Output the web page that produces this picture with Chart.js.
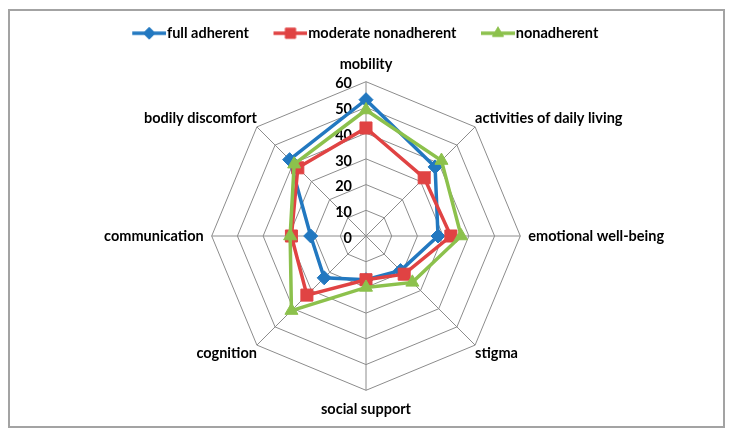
<!DOCTYPE html>
<html>
<head>
<meta charset="utf-8">
<script src="https://cdn.jsdelivr.net/npm/chart.js@4.4.1/dist/chart.umd.min.js"></script>
<style>
  html, body { margin: 0; padding: 0; background: #fff; }
  #wrap { position: relative; width: 731px; height: 434px; }
  #frame { position: absolute; left: 8px; top: 9px; width: 713px; height: 415px;
           border: 2px solid #a3a3a3; pointer-events: none; }
</style>
</head>
<body>
<div id="wrap">
  <canvas id="radar" width="731" height="434"></canvas>
  <div id="frame"></div>
</div>
<script>
// ===== QoL radar chart by adherence group =====

const categories = [
  "mobility", "activities of daily living", "emotional well-being", "stigma",
  "social support", "cognition", "communication", "bodily discomfort"
];
const seriesNames = ["full adherent", "moderate nonadherent", "nonadherent"];
const fullAdherent = [53, 38, 28, 19, 17, 23, 21.5, 42];
const moderateNonadherent = [42, 32, 33, 21, 17, 32.5, 29, 37.5];
const nonadherent = [49, 41.5, 37, 25.5, 20, 41, 29.5, 39.5];
const tickValues = [0, 10, 20, 30, 40, 50, 60];

const colors = ["#2278c0", "#e04343", "#8cc14c"];
const markers = ["rectRot", "rect", "triangle"];
const markerSizes = [7, 8.5, 7.5];

const FONT = "Lato";
const FONT_SIZE = 14.5;
Chart.defaults.font.family = FONT;
Chart.defaults.color = "#000";

// legend icon: line with the marker in the middle
function legendIcon(i) {
  const c = document.createElement("canvas");
  c.width = 39;
  c.height = 18;
  const g = c.getContext("2d");
  g.strokeStyle = colors[i];
  g.fillStyle = colors[i];
  g.lineWidth = 3.5;
  g.beginPath();
  g.moveTo(5, 9);
  g.lineTo(39, 9);
  g.stroke();
  g.lineWidth = 1;
  Chart.helpers.drawPoint(g, { pointStyle: markers[i], radius: markerSizes[i] * 0.85, borderWidth: 1, rotation: 0 }, 22, 9);
  return c;
}
const legendIcons = [0, 1, 2].map(legendIcon);

// tick numbers sit left of the vertical axis
const tickLabels = {
  id: "tickLabels",
  beforeDatasetsDraw(chart) {
    const s = chart.scales.r;
    const ctx = chart.ctx;
    ctx.save();
    ctx.font = "bold " + FONT_SIZE + "px " + FONT;
    ctx.fillStyle = "#000";
    ctx.textAlign = "right";
    ctx.textBaseline = "middle";
    tickValues.forEach(function (v) {
      ctx.fillText(String(v), s.xCenter - 14, s.yCenter - s.getDistanceFromCenterForValue(v) + 2);
    });
    ctx.restore();
  }
};

const values = [fullAdherent, moderateNonadherent, nonadherent];
const labelPadding = [8.3, 0, 8, 0, 10.3, 0, 8, 0];

new Chart(document.getElementById("radar"), {
  type: "radar",
  data: {
    labels: categories,
    datasets: values.map(function (v, i) {
      return {
        label: seriesNames[i],
        data: v,
        borderColor: colors[i],
        backgroundColor: colors[i],
        borderWidth: 3.5,
        fill: false,
        pointStyle: markers[i],
        pointRadius: markerSizes[i],
        pointBackgroundColor: colors[i],
        pointBorderColor: colors[i],
        pointBorderWidth: 1,
        order: 3 - i
      };
    })
  },
  options: {
    responsive: false,
    animation: false,
    events: [],
    layout: { padding: { top: 0, left: 11, right: 10, bottom: 15 } },
    scales: {
      r: {
        min: 0,
        max: 60,
        ticks: { stepSize: 10, display: false },
        grid: { color: "#8c8c8c", lineWidth: 1 },
        angleLines: { color: "#8c8c8c", lineWidth: 1 },
        pointLabels: {
          font: { size: FONT_SIZE, weight: "bold" },
          color: "#000",
          padding: function (ctx) { return labelPadding[ctx.index]; }
        }
      }
    },
    plugins: {
      tooltip: { enabled: false },
      title: {
        display: true,
        text: "",
        weight: 500,
        font: { size: 2, lineHeight: 1 },
        padding: { top: 0, bottom: 2.5 }
      },
      legend: {
        position: "top",
        labels: {
          usePointStyle: true,
          pointStyleWidth: 26,
          padding: 26,
          font: { size: FONT_SIZE, weight: "bold" },
          color: "#000",
          generateLabels: function (chart) {
            return chart.data.datasets.map(function (ds, i) {
              return {
                text: ds.label,
                pointStyle: legendIcons[i],
                fillStyle: colors[i],
                strokeStyle: colors[i],
                lineWidth: 0,
                hidden: false,
                datasetIndex: i
              };
            });
          }
        }
      }
    }
  },
  plugins: [tickLabels]
});
</script>
</body>
</html>
